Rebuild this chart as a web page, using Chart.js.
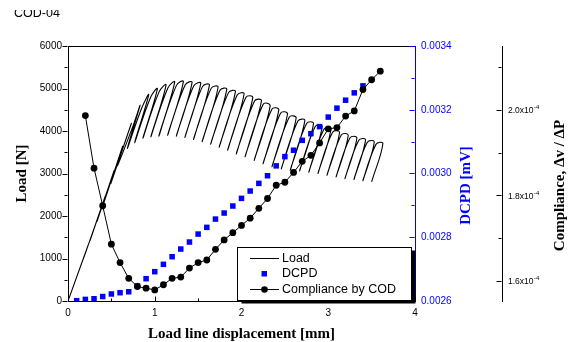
<!DOCTYPE html>
<html>
<head>
<meta charset="utf-8">
<script src="https://cdn.jsdelivr.net/npm/chart.js@4.4.0/dist/chart.umd.min.js"></script>
<style>
  body { margin: 0; background: #fff; }
  canvas { display: block; }
</style>
</head>
<body>
<canvas id="codChart" width="569" height="342"></canvas>
<script>
// COD-04 : load, DCPD and unloading compliance vs load line displacement

// Load record: each cycle unloads from a peak down to a valley, then reloads
const peakDisp = [0.23, 0.33, 0.43, 0.53, 0.63, 0.73, 0.83, 0.93, 1.03, 1.13, 1.23, 1.33,
  1.43, 1.53, 1.63, 1.73, 1.83, 1.93, 2.03, 2.13, 2.23, 2.33, 2.43, 2.53, 2.63, 2.73,
  2.83, 2.93, 3.03, 3.13, 3.23, 3.33, 3.43, 3.53, 3.63];
const peakLoad = [1300, 1880, 2470, 3060, 3640, 4180, 4600, 4850, 4990, 5080, 5150, 5160,
  5140, 5120, 5080, 5030, 4980, 4925, 4870, 4785, 4710, 4590, 4495, 4400, 4305, 4245,
  4175, 4105, 4035, 3965, 3895, 3835, 3790, 3740, 3705];
const valleyDisp = [0.177, 0.255, 0.336, 0.416, 0.495, 0.568, 0.684, 0.768, 0.863, 0.955,
  1.047, 1.148, 1.248, 1.347, 1.446, 1.546, 1.644, 1.742, 1.840, 1.939, 2.041, 2.146,
  2.248, 2.351, 2.458, 2.562, 2.669, 2.775, 2.881, 2.985, 3.090, 3.192, 3.296, 3.399, 3.500];
const valleyLoad = [990, 1430, 1880, 2330, 2770, 3180, 3590, 3725, 3830, 3865, 3880, 3900,
  3880, 3850, 3800, 3750, 3690, 3620, 3550, 3460, 3395, 3310, 3230, 3160, 3110, 3080,
  3060, 3030, 3000, 2960, 2920, 2880, 2860, 2830, 2805];
const reloadShift = 0.02; // reload line sits a little right of the unload line
const firstOpenLoop = 5;  // elastic cycles before this reload along the same line

// DCPD [mV]
const dcpdDisp = [0.1, 0.2, 0.3, 0.4, 0.5, 0.6, 0.7, 0.8, 0.9, 1.0, 1.1, 1.2, 1.3, 1.4, 1.5,
  1.6, 1.7, 1.8, 1.9, 2.0, 2.1, 2.2, 2.3, 2.4, 2.5, 2.6, 2.7, 2.8, 2.9, 3.0, 3.1, 3.2, 3.3, 3.4];
const dcpdValues = [0.002601, 0.002605, 0.002607, 0.002614, 0.002622, 0.002626, 0.002629,
  0.002647, 0.002670, 0.002692, 0.002715, 0.002739, 0.002763, 0.002785, 0.002810, 0.002831,
  0.002857, 0.002876, 0.002898, 0.002922, 0.002945, 0.002969, 0.002993, 0.003024, 0.003053,
  0.003073, 0.003104, 0.003125, 0.003147, 0.003177, 0.003205, 0.003230, 0.003253, 0.003275];

// Compliance by COD, in units of 1e-4
const complianceDisp = [0.2, 0.3, 0.4, 0.5, 0.6, 0.7, 0.8, 0.9, 1.0, 1.1, 1.2, 1.3, 1.4,
  1.5, 1.6, 1.7, 1.8, 1.9, 2.0, 2.1, 2.2, 2.3, 2.4, 2.5, 2.6, 2.7, 2.8, 2.9, 3.0, 3.1,
  3.2, 3.3, 3.4, 3.5, 3.6];
const complianceValues = [1.987, 1.864, 1.776, 1.686, 1.643, 1.606, 1.587, 1.583, 1.579,
  1.591, 1.606, 1.609, 1.630, 1.643, 1.649, 1.674, 1.696, 1.713, 1.730, 1.747, 1.770,
  1.793, 1.824, 1.831, 1.854, 1.880, 1.894, 1.923, 1.956, 1.959, 1.986, 1.998, 2.048,
  2.071, 2.091];

// axis ticks
const dispTicks = [0, 1, 2, 3, 4];
const dispMinor = [0.5, 1.5, 2.5, 3.5];
const loadTicks = [0, 1000, 2000, 3000, 4000, 5000, 6000];
const loadMinor = [500, 1500, 2500, 3500, 4500, 5500];
const dcpdTicks = [0.0026, 0.0028, 0.0030, 0.0032, 0.0034];
const dcpdMinor = [0.0027, 0.0029, 0.0031, 0.0033];
const complianceTicks = [1.6, 1.8, 2.0];
const complianceMinor = [1.7, 1.9, 2.1];

const SANS = '"Liberation Sans", Arial, sans-serif';
const SERIF = '"Liberation Serif", "Times New Roman", serif';
const BLUE = '#0000ff';

// build the load path from the cycles
const loadPoints = [{ x: 0, y: 0 }];
peakDisp.forEach((d, i) => {
  loadPoints.push({ x: d, y: peakLoad[i] });
  loadPoints.push({ x: valleyDisp[i], y: valleyLoad[i] });
  if (i >= firstOpenLoop && i < peakDisp.length - 1) {
    const drop = peakLoad[i] - valleyLoad[i];
    loadPoints.push({ x: d + reloadShift, y: peakLoad[i] - 0.06 * drop });
  }
});

const dcpdPoints = dcpdDisp.map((d, i) => ({ x: d, y: dcpdValues[i] }));
const compliancePoints = complianceDisp.map((d, i) => ({ x: d, y: complianceValues[i] }));

function asTicks(list) {
  return list.map(v => ({ value: v }));
}

function tickMarks(ctx, scale, values, len, dir, color) {
  ctx.strokeStyle = color;
  ctx.lineWidth = 1;
  ctx.beginPath();
  values.forEach(v => {
    const p = Math.round(scale.getPixelForValue(v)) + 0.5;
    if (scale.isHorizontal()) {
      const y0 = Math.round(scale.top) + 0.5;
      ctx.moveTo(p, y0);
      ctx.lineTo(p, y0 + dir * len);
    } else {
      const x0 = Math.round(scale.position === 'left' ? scale.right : scale.left) - 0.5;
      ctx.moveTo(x0, p);
      ctx.lineTo(x0 + dir * len, p);
    }
  });
  ctx.stroke();
}

const axisMarks = {
  id: 'axisMarks',
  afterDatasetsDraw(chart) {
    const { ctx, scales, chartArea } = chart;
    ctx.save();
    // top frame line
    ctx.strokeStyle = '#000';
    ctx.lineWidth = 1;
    ctx.beginPath();
    ctx.moveTo(chartArea.left, Math.round(chartArea.top) + 0.5);
    ctx.lineTo(chartArea.right, Math.round(chartArea.top) + 0.5);
    ctx.stroke();

    tickMarks(ctx, scales.x, dispTicks, 5, -1, '#000');
    tickMarks(ctx, scales.x, dispMinor, 3, -1, '#000');
    tickMarks(ctx, scales.y, loadTicks, 5, -1, '#000');
    tickMarks(ctx, scales.y, loadMinor, 3, -1, '#000');
    tickMarks(ctx, scales.yD, dcpdTicks, 5, -1, BLUE);
    tickMarks(ctx, scales.yD, dcpdMinor, 3, -1, BLUE);
    tickMarks(ctx, scales.yC, complianceTicks, 5, -1, '#000');
    tickMarks(ctx, scales.yC, complianceMinor, 3, -1, '#000');
    ctx.restore();
  }
};

const extras = {
  id: 'extras',
  afterDraw(chart) {
    const { ctx, scales } = chart;
    ctx.save();

    // sample name, top cut off like the original
    ctx.save();
    ctx.beginPath();
    ctx.rect(0, 10, 200, 20);
    ctx.clip();
    ctx.fillStyle = '#000';
    ctx.font = '12.5px ' + SANS;
    ctx.textBaseline = 'alphabetic';
    ctx.fillText('COD-04', 14, 17);
    ctx.restore();

    // compliance tick labels with exponent
    const yC = scales.yC;
    ctx.fillStyle = '#000';
    ctx.textBaseline = 'middle';
    ctx.textAlign = 'left';
    complianceTicks.forEach(v => {
      const y = yC.getPixelForValue(v);
      const base = v.toFixed(1) + 'x10';
      ctx.font = '8.5px ' + SANS;
      ctx.fillText(base, yC.left + 6, y + 1);
      const w = ctx.measureText(base).width;
      ctx.font = '6px ' + SANS;
      ctx.fillText('-4', yC.left + 6 + w + 0.5, y - 2.5);
    });

    // right axis titles, read bottom to top
    ctx.font = 'bold 15px ' + SERIF;
    ctx.textAlign = 'center';
    ctx.textBaseline = 'middle';
    const midY = (chart.chartArea.top + chart.chartArea.bottom) / 2 + 12;
    [[466.5, 'DCPD [mV]', BLUE], [560, 'Compliance, \u0394v / \u0394P', '#000']].forEach(t => {
      ctx.save();
      ctx.translate(t[0], midY);
      ctx.rotate(-Math.PI / 2);
      ctx.fillStyle = t[2];
      ctx.fillText(t[1], 0, 0);
      ctx.restore();
    });

    // legend with drop shadow
    const lx = 237.5, ly = 247.5, lw = 174, lh = 53;
    ctx.fillStyle = '#000';
    ctx.fillRect(lx + 4, ly + 3, lw, lh);
    ctx.fillStyle = '#fff';
    ctx.fillRect(lx, ly, lw, lh);
    ctx.strokeStyle = '#000';
    ctx.lineWidth = 1;
    ctx.strokeRect(lx, ly, lw, lh);

    const rows = [ly + 11, ly + 26, ly + 42];
    ctx.beginPath();
    ctx.moveTo(250, rows[0]); ctx.lineTo(279, rows[0]);
    ctx.moveTo(250, rows[2]); ctx.lineTo(279, rows[2]);
    ctx.stroke();
    ctx.fillStyle = BLUE;
    ctx.fillRect(261.5, rows[1] - 2.5, 5.5, 5.5);
    ctx.fillStyle = '#000';
    ctx.beginPath();
    ctx.arc(264.5, rows[2], 3.3, 0, Math.PI * 2);
    ctx.fill();

    ctx.font = '12.5px ' + SANS;
    ctx.textAlign = 'left';
    ctx.textBaseline = 'middle';
    ctx.fillText('Load', 282, rows[0]);
    ctx.fillText('DCPD', 282, rows[1]);
    ctx.fillText('Compliance by COD', 282, rows[2]);
    ctx.restore();
  }
};

Chart.defaults.font.family = SANS;
Chart.defaults.color = '#000';

new Chart(document.getElementById('codChart'), {
  type: 'line',
  data: {
    datasets: [
      {
        label: 'Load',
        data: loadPoints,
        yAxisID: 'y',
        borderColor: '#000',
        borderWidth: 1.1,
        pointRadius: 0,
        tension: 0.4,
        fill: false,
        order: 3
      },
      {
        label: 'DCPD',
        data: dcpdPoints,
        yAxisID: 'yD',
        showLine: false,
        pointStyle: 'rect',
        pointRadius: 3.9,
        pointBackgroundColor: BLUE,
        pointBorderWidth: 0,
        borderColor: BLUE,
        order: 2
      },
      {
        label: 'Compliance by COD',
        data: compliancePoints,
        yAxisID: 'yC',
        borderColor: '#000',
        borderWidth: 1,
        pointStyle: 'circle',
        pointRadius: 3.4,
        pointBackgroundColor: '#000',
        pointBorderWidth: 0,
        tension: 0,
        order: 1
      }
    ]
  },
  options: {
    responsive: false,
    animation: false,
    layout: { padding: { top: 46, left: 0, right: 0, bottom: 0 } },
    plugins: {
      legend: { display: false },
      tooltip: { enabled: false }
    },
    scales: {
      x: {
        type: 'linear',
        position: 'bottom',
        min: 0,
        max: 4,
        afterBuildTicks: s => { s.ticks = asTicks(dispTicks); },
        afterFit: s => { s.height = 41; },
        grid: { display: false, drawTicks: false },
        border: { display: true, color: '#000', width: 1 },
        ticks: { font: { size: 10 }, color: '#000', padding: 6, maxRotation: 0, autoSkip: false },
        title: {
          display: true,
          text: 'Load line displacement [mm]',
          color: '#000',
          font: { size: 15, weight: 'bold', family: SERIF },
          padding: { top: 0, bottom: -1 }
        }
      },
      y: {
        type: 'linear',
        position: 'left',
        min: 0,
        max: 6000,
        afterBuildTicks: s => { s.ticks = asTicks(loadTicks); },
        afterFit: s => { s.width = 68; },
        grid: { display: false, drawTicks: false },
        border: { display: true, color: '#000', width: 1 },
        ticks: { font: { size: 10 }, color: '#000', padding: 6, callback: v => String(v) },
        title: {
          display: true,
          text: 'Load [N]',
          color: '#000',
          font: { size: 15, weight: 'bold', family: SERIF },
          padding: { top: 13, bottom: 0 }
        }
      },
      yD: {
        type: 'linear',
        position: 'right',
        min: 0.0026,
        max: 0.0034,
        afterBuildTicks: s => { s.ticks = asTicks(dcpdTicks); },
        afterFit: s => { s.width = 87; },
        grid: { display: false, drawTicks: false },
        border: { display: true, color: BLUE, width: 1 },
        ticks: { font: { size: 10 }, color: BLUE, padding: 6, callback: v => v.toFixed(4) }
      },
      yC: {
        type: 'linear',
        position: 'right',
        min: 1.553,
        max: 2.15,
        afterBuildTicks: s => { s.ticks = asTicks(complianceTicks); },
        afterFit: s => { s.width = 67; },
        grid: { display: false, drawTicks: false },
        border: { display: true, color: '#000', width: 1 },
        ticks: { display: false }
      }
    }
  },
  plugins: [axisMarks, extras]
});
</script>
</body>
</html>
